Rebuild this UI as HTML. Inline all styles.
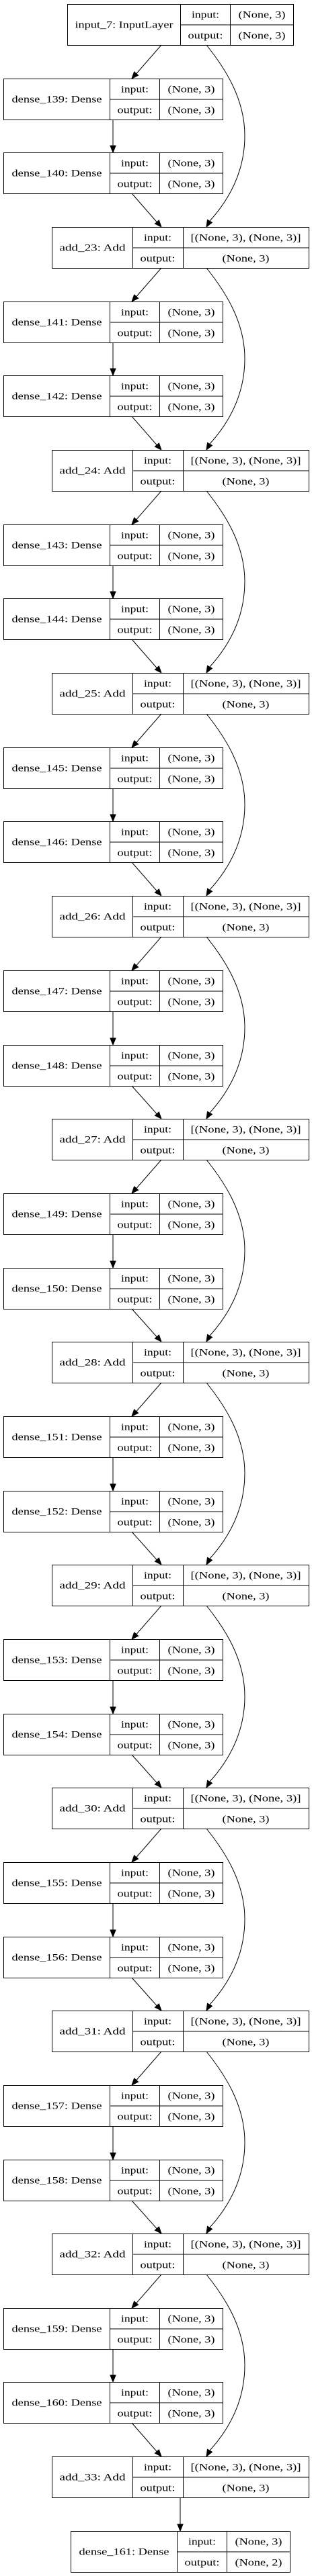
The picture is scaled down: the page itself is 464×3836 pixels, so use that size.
<!DOCTYPE html>
<html><head><meta charset="utf-8"><style>
html,body{margin:0;padding:0;background:#fff}
svg{display:block}
text{font-family:"Liberation Serif",serif;font-size:15px;fill:#000;text-anchor:middle}
rect,.b{fill:none;stroke:#000;stroke-width:1}
.e{fill:none;stroke:#000;stroke-width:1}
polygon{fill:#000;stroke:#000;stroke-width:1}
</style></head><body>
<svg width="464" height="3836" viewBox="0 0 464 3836" xmlns="http://www.w3.org/2000/svg">
<!-- input -->
<g transform="translate(100.5,6.5)"><rect width="336" height="61"/><path class="b" d="M168 0V61M242 0V61M168 30.5H336"/>
<text x="84" y="35" textLength="146" lengthAdjust="spacingAndGlyphs">input_7: InputLayer</text>
<text x="205" y="20" textLength="41" lengthAdjust="spacingAndGlyphs">input:</text><text x="205" y="51" textLength="52" lengthAdjust="spacingAndGlyphs">output:</text>
<text x="289" y="20" textLength="70" lengthAdjust="spacingAndGlyphs">(None, 3)</text><text x="289" y="51" textLength="70" lengthAdjust="spacingAndGlyphs">(None, 3)</text></g>

<!-- dense nodes -->
<g transform="translate(5.5,117.5)"><rect width="326" height="61"/><path class="b" d="M158 0V61M232 0V61M158 30.5H326"/><text x="79" y="35" textLength="134" lengthAdjust="spacingAndGlyphs">dense_139: Dense</text><text x="195" y="20" textLength="41" lengthAdjust="spacingAndGlyphs">input:</text><text x="195" y="51" textLength="52" lengthAdjust="spacingAndGlyphs">output:</text><text x="279" y="20" textLength="70" lengthAdjust="spacingAndGlyphs">(None, 3)</text><text x="279" y="51" textLength="70" lengthAdjust="spacingAndGlyphs">(None, 3)</text></g>
<g transform="translate(5.5,227.5)"><rect width="326" height="61"/><path class="b" d="M158 0V61M232 0V61M158 30.5H326"/><text x="79" y="35" textLength="134" lengthAdjust="spacingAndGlyphs">dense_140: Dense</text><text x="195" y="20" textLength="41" lengthAdjust="spacingAndGlyphs">input:</text><text x="195" y="51" textLength="52" lengthAdjust="spacingAndGlyphs">output:</text><text x="279" y="20" textLength="70" lengthAdjust="spacingAndGlyphs">(None, 3)</text><text x="279" y="51" textLength="70" lengthAdjust="spacingAndGlyphs">(None, 3)</text></g>
<g transform="translate(5.5,449.5)"><rect width="326" height="61"/><path class="b" d="M158 0V61M232 0V61M158 30.5H326"/><text x="79" y="35" textLength="134" lengthAdjust="spacingAndGlyphs">dense_141: Dense</text><text x="195" y="20" textLength="41" lengthAdjust="spacingAndGlyphs">input:</text><text x="195" y="51" textLength="52" lengthAdjust="spacingAndGlyphs">output:</text><text x="279" y="20" textLength="70" lengthAdjust="spacingAndGlyphs">(None, 3)</text><text x="279" y="51" textLength="70" lengthAdjust="spacingAndGlyphs">(None, 3)</text></g>
<g transform="translate(5.5,559.5)"><rect width="326" height="61"/><path class="b" d="M158 0V61M232 0V61M158 30.5H326"/><text x="79" y="35" textLength="134" lengthAdjust="spacingAndGlyphs">dense_142: Dense</text><text x="195" y="20" textLength="41" lengthAdjust="spacingAndGlyphs">input:</text><text x="195" y="51" textLength="52" lengthAdjust="spacingAndGlyphs">output:</text><text x="279" y="20" textLength="70" lengthAdjust="spacingAndGlyphs">(None, 3)</text><text x="279" y="51" textLength="70" lengthAdjust="spacingAndGlyphs">(None, 3)</text></g>
<g transform="translate(5.5,781.5)"><rect width="326" height="61"/><path class="b" d="M158 0V61M232 0V61M158 30.5H326"/><text x="79" y="35" textLength="134" lengthAdjust="spacingAndGlyphs">dense_143: Dense</text><text x="195" y="20" textLength="41" lengthAdjust="spacingAndGlyphs">input:</text><text x="195" y="51" textLength="52" lengthAdjust="spacingAndGlyphs">output:</text><text x="279" y="20" textLength="70" lengthAdjust="spacingAndGlyphs">(None, 3)</text><text x="279" y="51" textLength="70" lengthAdjust="spacingAndGlyphs">(None, 3)</text></g>
<g transform="translate(5.5,891.5)"><rect width="326" height="61"/><path class="b" d="M158 0V61M232 0V61M158 30.5H326"/><text x="79" y="35" textLength="134" lengthAdjust="spacingAndGlyphs">dense_144: Dense</text><text x="195" y="20" textLength="41" lengthAdjust="spacingAndGlyphs">input:</text><text x="195" y="51" textLength="52" lengthAdjust="spacingAndGlyphs">output:</text><text x="279" y="20" textLength="70" lengthAdjust="spacingAndGlyphs">(None, 3)</text><text x="279" y="51" textLength="70" lengthAdjust="spacingAndGlyphs">(None, 3)</text></g>
<g transform="translate(5.5,1113.5)"><rect width="326" height="61"/><path class="b" d="M158 0V61M232 0V61M158 30.5H326"/><text x="79" y="35" textLength="134" lengthAdjust="spacingAndGlyphs">dense_145: Dense</text><text x="195" y="20" textLength="41" lengthAdjust="spacingAndGlyphs">input:</text><text x="195" y="51" textLength="52" lengthAdjust="spacingAndGlyphs">output:</text><text x="279" y="20" textLength="70" lengthAdjust="spacingAndGlyphs">(None, 3)</text><text x="279" y="51" textLength="70" lengthAdjust="spacingAndGlyphs">(None, 3)</text></g>
<g transform="translate(5.5,1223.5)"><rect width="326" height="61"/><path class="b" d="M158 0V61M232 0V61M158 30.5H326"/><text x="79" y="35" textLength="134" lengthAdjust="spacingAndGlyphs">dense_146: Dense</text><text x="195" y="20" textLength="41" lengthAdjust="spacingAndGlyphs">input:</text><text x="195" y="51" textLength="52" lengthAdjust="spacingAndGlyphs">output:</text><text x="279" y="20" textLength="70" lengthAdjust="spacingAndGlyphs">(None, 3)</text><text x="279" y="51" textLength="70" lengthAdjust="spacingAndGlyphs">(None, 3)</text></g>
<g transform="translate(5.5,1445.5)"><rect width="326" height="61"/><path class="b" d="M158 0V61M232 0V61M158 30.5H326"/><text x="79" y="35" textLength="134" lengthAdjust="spacingAndGlyphs">dense_147: Dense</text><text x="195" y="20" textLength="41" lengthAdjust="spacingAndGlyphs">input:</text><text x="195" y="51" textLength="52" lengthAdjust="spacingAndGlyphs">output:</text><text x="279" y="20" textLength="70" lengthAdjust="spacingAndGlyphs">(None, 3)</text><text x="279" y="51" textLength="70" lengthAdjust="spacingAndGlyphs">(None, 3)</text></g>
<g transform="translate(5.5,1556.5)"><rect width="326" height="61"/><path class="b" d="M158 0V61M232 0V61M158 30.5H326"/><text x="79" y="35" textLength="134" lengthAdjust="spacingAndGlyphs">dense_148: Dense</text><text x="195" y="20" textLength="41" lengthAdjust="spacingAndGlyphs">input:</text><text x="195" y="51" textLength="52" lengthAdjust="spacingAndGlyphs">output:</text><text x="279" y="20" textLength="70" lengthAdjust="spacingAndGlyphs">(None, 3)</text><text x="279" y="51" textLength="70" lengthAdjust="spacingAndGlyphs">(None, 3)</text></g>
<g transform="translate(5.5,1777.5)"><rect width="326" height="61"/><path class="b" d="M158 0V61M232 0V61M158 30.5H326"/><text x="79" y="35" textLength="134" lengthAdjust="spacingAndGlyphs">dense_149: Dense</text><text x="195" y="20" textLength="41" lengthAdjust="spacingAndGlyphs">input:</text><text x="195" y="51" textLength="52" lengthAdjust="spacingAndGlyphs">output:</text><text x="279" y="20" textLength="70" lengthAdjust="spacingAndGlyphs">(None, 3)</text><text x="279" y="51" textLength="70" lengthAdjust="spacingAndGlyphs">(None, 3)</text></g>
<g transform="translate(5.5,1888.5)"><rect width="326" height="61"/><path class="b" d="M158 0V61M232 0V61M158 30.5H326"/><text x="79" y="35" textLength="134" lengthAdjust="spacingAndGlyphs">dense_150: Dense</text><text x="195" y="20" textLength="41" lengthAdjust="spacingAndGlyphs">input:</text><text x="195" y="51" textLength="52" lengthAdjust="spacingAndGlyphs">output:</text><text x="279" y="20" textLength="70" lengthAdjust="spacingAndGlyphs">(None, 3)</text><text x="279" y="51" textLength="70" lengthAdjust="spacingAndGlyphs">(None, 3)</text></g>
<g transform="translate(5.5,2109.5)"><rect width="326" height="61"/><path class="b" d="M158 0V61M232 0V61M158 30.5H326"/><text x="79" y="35" textLength="134" lengthAdjust="spacingAndGlyphs">dense_151: Dense</text><text x="195" y="20" textLength="41" lengthAdjust="spacingAndGlyphs">input:</text><text x="195" y="51" textLength="52" lengthAdjust="spacingAndGlyphs">output:</text><text x="279" y="20" textLength="70" lengthAdjust="spacingAndGlyphs">(None, 3)</text><text x="279" y="51" textLength="70" lengthAdjust="spacingAndGlyphs">(None, 3)</text></g>
<g transform="translate(5.5,2220.5)"><rect width="326" height="61"/><path class="b" d="M158 0V61M232 0V61M158 30.5H326"/><text x="79" y="35" textLength="134" lengthAdjust="spacingAndGlyphs">dense_152: Dense</text><text x="195" y="20" textLength="41" lengthAdjust="spacingAndGlyphs">input:</text><text x="195" y="51" textLength="52" lengthAdjust="spacingAndGlyphs">output:</text><text x="279" y="20" textLength="70" lengthAdjust="spacingAndGlyphs">(None, 3)</text><text x="279" y="51" textLength="70" lengthAdjust="spacingAndGlyphs">(None, 3)</text></g>
<g transform="translate(5.5,2441.5)"><rect width="326" height="61"/><path class="b" d="M158 0V61M232 0V61M158 30.5H326"/><text x="79" y="35" textLength="134" lengthAdjust="spacingAndGlyphs">dense_153: Dense</text><text x="195" y="20" textLength="41" lengthAdjust="spacingAndGlyphs">input:</text><text x="195" y="51" textLength="52" lengthAdjust="spacingAndGlyphs">output:</text><text x="279" y="20" textLength="70" lengthAdjust="spacingAndGlyphs">(None, 3)</text><text x="279" y="51" textLength="70" lengthAdjust="spacingAndGlyphs">(None, 3)</text></g>
<g transform="translate(5.5,2552.5)"><rect width="326" height="61"/><path class="b" d="M158 0V61M232 0V61M158 30.5H326"/><text x="79" y="35" textLength="134" lengthAdjust="spacingAndGlyphs">dense_154: Dense</text><text x="195" y="20" textLength="41" lengthAdjust="spacingAndGlyphs">input:</text><text x="195" y="51" textLength="52" lengthAdjust="spacingAndGlyphs">output:</text><text x="279" y="20" textLength="70" lengthAdjust="spacingAndGlyphs">(None, 3)</text><text x="279" y="51" textLength="70" lengthAdjust="spacingAndGlyphs">(None, 3)</text></g>
<g transform="translate(5.5,2773.5)"><rect width="326" height="61"/><path class="b" d="M158 0V61M232 0V61M158 30.5H326"/><text x="79" y="35" textLength="134" lengthAdjust="spacingAndGlyphs">dense_155: Dense</text><text x="195" y="20" textLength="41" lengthAdjust="spacingAndGlyphs">input:</text><text x="195" y="51" textLength="52" lengthAdjust="spacingAndGlyphs">output:</text><text x="279" y="20" textLength="70" lengthAdjust="spacingAndGlyphs">(None, 3)</text><text x="279" y="51" textLength="70" lengthAdjust="spacingAndGlyphs">(None, 3)</text></g>
<g transform="translate(5.5,2884.5)"><rect width="326" height="61"/><path class="b" d="M158 0V61M232 0V61M158 30.5H326"/><text x="79" y="35" textLength="134" lengthAdjust="spacingAndGlyphs">dense_156: Dense</text><text x="195" y="20" textLength="41" lengthAdjust="spacingAndGlyphs">input:</text><text x="195" y="51" textLength="52" lengthAdjust="spacingAndGlyphs">output:</text><text x="279" y="20" textLength="70" lengthAdjust="spacingAndGlyphs">(None, 3)</text><text x="279" y="51" textLength="70" lengthAdjust="spacingAndGlyphs">(None, 3)</text></g>
<g transform="translate(5.5,3105.5)"><rect width="326" height="61"/><path class="b" d="M158 0V61M232 0V61M158 30.5H326"/><text x="79" y="35" textLength="134" lengthAdjust="spacingAndGlyphs">dense_157: Dense</text><text x="195" y="20" textLength="41" lengthAdjust="spacingAndGlyphs">input:</text><text x="195" y="51" textLength="52" lengthAdjust="spacingAndGlyphs">output:</text><text x="279" y="20" textLength="70" lengthAdjust="spacingAndGlyphs">(None, 3)</text><text x="279" y="51" textLength="70" lengthAdjust="spacingAndGlyphs">(None, 3)</text></g>
<g transform="translate(5.5,3216.5)"><rect width="326" height="61"/><path class="b" d="M158 0V61M232 0V61M158 30.5H326"/><text x="79" y="35" textLength="134" lengthAdjust="spacingAndGlyphs">dense_158: Dense</text><text x="195" y="20" textLength="41" lengthAdjust="spacingAndGlyphs">input:</text><text x="195" y="51" textLength="52" lengthAdjust="spacingAndGlyphs">output:</text><text x="279" y="20" textLength="70" lengthAdjust="spacingAndGlyphs">(None, 3)</text><text x="279" y="51" textLength="70" lengthAdjust="spacingAndGlyphs">(None, 3)</text></g>
<g transform="translate(5.5,3437.5)"><rect width="326" height="61"/><path class="b" d="M158 0V61M232 0V61M158 30.5H326"/><text x="79" y="35" textLength="134" lengthAdjust="spacingAndGlyphs">dense_159: Dense</text><text x="195" y="20" textLength="41" lengthAdjust="spacingAndGlyphs">input:</text><text x="195" y="51" textLength="52" lengthAdjust="spacingAndGlyphs">output:</text><text x="279" y="20" textLength="70" lengthAdjust="spacingAndGlyphs">(None, 3)</text><text x="279" y="51" textLength="70" lengthAdjust="spacingAndGlyphs">(None, 3)</text></g>
<g transform="translate(5.5,3547.5)"><rect width="326" height="61"/><path class="b" d="M158 0V61M232 0V61M158 30.5H326"/><text x="79" y="35" textLength="134" lengthAdjust="spacingAndGlyphs">dense_160: Dense</text><text x="195" y="20" textLength="41" lengthAdjust="spacingAndGlyphs">input:</text><text x="195" y="51" textLength="52" lengthAdjust="spacingAndGlyphs">output:</text><text x="279" y="20" textLength="70" lengthAdjust="spacingAndGlyphs">(None, 3)</text><text x="279" y="51" textLength="70" lengthAdjust="spacingAndGlyphs">(None, 3)</text></g>
<g transform="translate(105.5,3769.5)"><rect width="326" height="61"/><path class="b" d="M158 0V61M232 0V61M158 30.5H326"/><text x="79" y="35" textLength="134" lengthAdjust="spacingAndGlyphs">dense_161: Dense</text><text x="195" y="20" textLength="41" lengthAdjust="spacingAndGlyphs">input:</text><text x="195" y="51" textLength="52" lengthAdjust="spacingAndGlyphs">output:</text><text x="279" y="20" textLength="70" lengthAdjust="spacingAndGlyphs">(None, 3)</text><text x="279" y="51" textLength="70" lengthAdjust="spacingAndGlyphs">(None, 2)</text></g>

<!-- add nodes -->
<g transform="translate(77.5,338.5)"><rect width="382" height="61"/><path class="b" d="M120 0V61M195 0V61M120 30.5H382"/><text x="60" y="35" textLength="98" lengthAdjust="spacingAndGlyphs">add_23: Add</text><text x="157" y="20" textLength="41" lengthAdjust="spacingAndGlyphs">input:</text><text x="157" y="51" textLength="52" lengthAdjust="spacingAndGlyphs">output:</text><text x="288" y="20" textLength="164" lengthAdjust="spacingAndGlyphs">[(None, 3), (None, 3)]</text><text x="288" y="51" textLength="70" lengthAdjust="spacingAndGlyphs">(None, 3)</text></g>
<g transform="translate(77.5,670.5)"><rect width="382" height="61"/><path class="b" d="M120 0V61M195 0V61M120 30.5H382"/><text x="60" y="35" textLength="98" lengthAdjust="spacingAndGlyphs">add_24: Add</text><text x="157" y="20" textLength="41" lengthAdjust="spacingAndGlyphs">input:</text><text x="157" y="51" textLength="52" lengthAdjust="spacingAndGlyphs">output:</text><text x="288" y="20" textLength="164" lengthAdjust="spacingAndGlyphs">[(None, 3), (None, 3)]</text><text x="288" y="51" textLength="70" lengthAdjust="spacingAndGlyphs">(None, 3)</text></g>
<g transform="translate(77.5,1002.5)"><rect width="382" height="61"/><path class="b" d="M120 0V61M195 0V61M120 30.5H382"/><text x="60" y="35" textLength="98" lengthAdjust="spacingAndGlyphs">add_25: Add</text><text x="157" y="20" textLength="41" lengthAdjust="spacingAndGlyphs">input:</text><text x="157" y="51" textLength="52" lengthAdjust="spacingAndGlyphs">output:</text><text x="288" y="20" textLength="164" lengthAdjust="spacingAndGlyphs">[(None, 3), (None, 3)]</text><text x="288" y="51" textLength="70" lengthAdjust="spacingAndGlyphs">(None, 3)</text></g>
<g transform="translate(77.5,1334.5)"><rect width="382" height="61"/><path class="b" d="M120 0V61M195 0V61M120 30.5H382"/><text x="60" y="35" textLength="98" lengthAdjust="spacingAndGlyphs">add_26: Add</text><text x="157" y="20" textLength="41" lengthAdjust="spacingAndGlyphs">input:</text><text x="157" y="51" textLength="52" lengthAdjust="spacingAndGlyphs">output:</text><text x="288" y="20" textLength="164" lengthAdjust="spacingAndGlyphs">[(None, 3), (None, 3)]</text><text x="288" y="51" textLength="70" lengthAdjust="spacingAndGlyphs">(None, 3)</text></g>
<g transform="translate(77.5,1666.5)"><rect width="382" height="61"/><path class="b" d="M120 0V61M195 0V61M120 30.5H382"/><text x="60" y="35" textLength="98" lengthAdjust="spacingAndGlyphs">add_27: Add</text><text x="157" y="20" textLength="41" lengthAdjust="spacingAndGlyphs">input:</text><text x="157" y="51" textLength="52" lengthAdjust="spacingAndGlyphs">output:</text><text x="288" y="20" textLength="164" lengthAdjust="spacingAndGlyphs">[(None, 3), (None, 3)]</text><text x="288" y="51" textLength="70" lengthAdjust="spacingAndGlyphs">(None, 3)</text></g>
<g transform="translate(77.5,1998.5)"><rect width="382" height="61"/><path class="b" d="M120 0V61M195 0V61M120 30.5H382"/><text x="60" y="35" textLength="98" lengthAdjust="spacingAndGlyphs">add_28: Add</text><text x="157" y="20" textLength="41" lengthAdjust="spacingAndGlyphs">input:</text><text x="157" y="51" textLength="52" lengthAdjust="spacingAndGlyphs">output:</text><text x="288" y="20" textLength="164" lengthAdjust="spacingAndGlyphs">[(None, 3), (None, 3)]</text><text x="288" y="51" textLength="70" lengthAdjust="spacingAndGlyphs">(None, 3)</text></g>
<g transform="translate(77.5,2330.5)"><rect width="382" height="61"/><path class="b" d="M120 0V61M195 0V61M120 30.5H382"/><text x="60" y="35" textLength="98" lengthAdjust="spacingAndGlyphs">add_29: Add</text><text x="157" y="20" textLength="41" lengthAdjust="spacingAndGlyphs">input:</text><text x="157" y="51" textLength="52" lengthAdjust="spacingAndGlyphs">output:</text><text x="288" y="20" textLength="164" lengthAdjust="spacingAndGlyphs">[(None, 3), (None, 3)]</text><text x="288" y="51" textLength="70" lengthAdjust="spacingAndGlyphs">(None, 3)</text></g>
<g transform="translate(77.5,2662.5)"><rect width="382" height="61"/><path class="b" d="M120 0V61M195 0V61M120 30.5H382"/><text x="60" y="35" textLength="98" lengthAdjust="spacingAndGlyphs">add_30: Add</text><text x="157" y="20" textLength="41" lengthAdjust="spacingAndGlyphs">input:</text><text x="157" y="51" textLength="52" lengthAdjust="spacingAndGlyphs">output:</text><text x="288" y="20" textLength="164" lengthAdjust="spacingAndGlyphs">[(None, 3), (None, 3)]</text><text x="288" y="51" textLength="70" lengthAdjust="spacingAndGlyphs">(None, 3)</text></g>
<g transform="translate(77.5,2994.5)"><rect width="382" height="61"/><path class="b" d="M120 0V61M195 0V61M120 30.5H382"/><text x="60" y="35" textLength="98" lengthAdjust="spacingAndGlyphs">add_31: Add</text><text x="157" y="20" textLength="41" lengthAdjust="spacingAndGlyphs">input:</text><text x="157" y="51" textLength="52" lengthAdjust="spacingAndGlyphs">output:</text><text x="288" y="20" textLength="164" lengthAdjust="spacingAndGlyphs">[(None, 3), (None, 3)]</text><text x="288" y="51" textLength="70" lengthAdjust="spacingAndGlyphs">(None, 3)</text></g>
<g transform="translate(77.5,3326.5)"><rect width="382" height="61"/><path class="b" d="M120 0V61M195 0V61M120 30.5H382"/><text x="60" y="35" textLength="98" lengthAdjust="spacingAndGlyphs">add_32: Add</text><text x="157" y="20" textLength="41" lengthAdjust="spacingAndGlyphs">input:</text><text x="157" y="51" textLength="52" lengthAdjust="spacingAndGlyphs">output:</text><text x="288" y="20" textLength="164" lengthAdjust="spacingAndGlyphs">[(None, 3), (None, 3)]</text><text x="288" y="51" textLength="70" lengthAdjust="spacingAndGlyphs">(None, 3)</text></g>
<g transform="translate(77.5,3658.5)"><rect width="382" height="61"/><path class="b" d="M120 0V61M195 0V61M120 30.5H382"/><text x="60" y="35" textLength="98" lengthAdjust="spacingAndGlyphs">add_33: Add</text><text x="157" y="20" textLength="41" lengthAdjust="spacingAndGlyphs">input:</text><text x="157" y="51" textLength="52" lengthAdjust="spacingAndGlyphs">output:</text><text x="288" y="20" textLength="164" lengthAdjust="spacingAndGlyphs">[(None, 3), (None, 3)]</text><text x="288" y="51" textLength="70" lengthAdjust="spacingAndGlyphs">(None, 3)</text></g>

<!-- edges -->
<path class="e" d="M240 67L199 114
M168 178V217
M196 288L237 335
M240 399L199 446
M168 510V549
M196 620L237 667
M240 731L199 778
M168 842V881
M196 952L237 999
M240 1063L199 1110
M168 1174V1213
M196 1284L237 1331
M240 1395L199 1442
M168 1506V1546
M196 1617L237 1663
M240 1727L199 1774
M168 1838V1878
M196 1949L237 1995
M240 2059L199 2106
M168 2170V2210
M196 2281L237 2327
M240 2391L199 2438
M168 2502V2542
M196 2613L237 2659
M240 2723L199 2770
M168 2834V2874
M196 2945L237 2991
M240 3055L199 3102
M168 3166V3206
M196 3277L237 3323
M240 3387L199 3434
M168 3498V3537
M196 3608L237 3655
M268 3719V3759"/>
<g>
<polygon points="196,117 205.6,112.1 199.6,106.9"/>
<polygon points="168,227 164,217 172,217"/>
<polygon points="240,338 236.4,327.9 230.4,333.1"/>
<polygon points="196,449 205.6,444.1 199.6,438.9"/>
<polygon points="168,559 164,549 172,549"/>
<polygon points="240,670 236.4,659.9 230.4,665.1"/>
<polygon points="196,781 205.6,776.1 199.6,770.9"/>
<polygon points="168,891 164,881 172,881"/>
<polygon points="240,1002 236.4,991.9 230.4,997.1"/>
<polygon points="196,1113 205.6,1108.1 199.6,1102.9"/>
<polygon points="168,1223 164,1213 172,1213"/>
<polygon points="240,1334 236.4,1323.9 230.4,1329.1"/>
<polygon points="196,1445 205.6,1440.1 199.6,1434.9"/>
<polygon points="168,1556 164,1546 172,1546"/>
<polygon points="240,1666 236.4,1655.9 230.4,1661.1"/>
<polygon points="196,1777 205.6,1772.1 199.6,1766.9"/>
<polygon points="168,1888 164,1878 172,1878"/>
<polygon points="240,1998 236.4,1987.9 230.4,1993.1"/>
<polygon points="196,2109 205.6,2104.1 199.6,2098.9"/>
<polygon points="168,2220 164,2210 172,2210"/>
<polygon points="240,2330 236.4,2319.9 230.4,2325.1"/>
<polygon points="196,2441 205.6,2436.1 199.6,2430.9"/>
<polygon points="168,2552 164,2542 172,2542"/>
<polygon points="240,2662 236.4,2651.9 230.4,2657.1"/>
<polygon points="196,2773 205.6,2768.1 199.6,2762.9"/>
<polygon points="168,2884 164,2874 172,2874"/>
<polygon points="240,2994 236.4,2983.9 230.4,2989.1"/>
<polygon points="196,3105 205.6,3100.1 199.6,3094.9"/>
<polygon points="168,3216 164,3206 172,3206"/>
<polygon points="240,3326 236.4,3315.9 230.4,3321.1"/>
<polygon points="196,3437 205.6,3432.1 199.6,3426.9"/>
<polygon points="168,3547 164,3537 172,3537"/>
<polygon points="240,3658 236.4,3647.9 230.4,3653.1"/>
<polygon points="268,3769 264,3759 272,3759"/>
</g>
<!-- skip connections -->
<path class="e" d="M307 67C335 102 364 147 364 202C364 257 340 298 312 329
M307 399C335 434 364 479 364 534C364 589 340 630 312 661
M307 731C335 766 364 811 364 866C364 921 340 962 312 993
M307 1063C335 1098 364 1143 364 1198C364 1253 340 1294 312 1325
M307 1395C335 1430 364 1475 364 1530C364 1585 340 1626 312 1657
M307 1727C335 1762 364 1807 364 1862C364 1917 340 1958 312 1989
M307 2059C335 2094 364 2139 364 2194C364 2249 340 2290 312 2321
M307 2391C335 2426 364 2471 364 2526C364 2581 340 2622 312 2653
M307 2723C335 2758 364 2803 364 2858C364 2913 340 2954 312 2985
M307 3055C335 3090 364 3135 364 3190C364 3245 340 3286 312 3317
M307 3387C335 3422 364 3467 364 3522C364 3577 340 3618 312 3649"/>
<g>
<polygon points="307,338 315.5,331.3 308.5,327.3"/>
<polygon points="307,670 315.5,663.3 308.5,659.3"/>
<polygon points="307,1002 315.5,995.3 308.5,991.3"/>
<polygon points="307,1334 315.5,1327.3 308.5,1323.3"/>
<polygon points="307,1666 315.5,1659.3 308.5,1655.3"/>
<polygon points="307,1998 315.5,1991.3 308.5,1987.3"/>
<polygon points="307,2330 315.5,2323.3 308.5,2319.3"/>
<polygon points="307,2662 315.5,2655.3 308.5,2651.3"/>
<polygon points="307,2994 315.5,2987.3 308.5,2983.3"/>
<polygon points="307,3326 315.5,3319.3 308.5,3315.3"/>
<polygon points="307,3658 315.5,3651.3 308.5,3647.3"/>
</g>
</svg>
</body></html>
